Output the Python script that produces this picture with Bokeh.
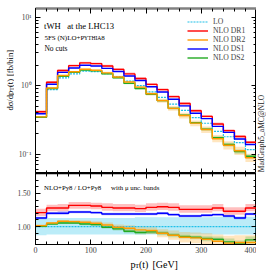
import math
from bokeh.plotting import figure
from bokeh.models import (Range1d, FixedTicker, LogAxis, LinearAxis, Label, Legend,
                          LegendItem, CustomJSTickFormatter, PrintfTickFormatter)
from bokeh.layouts import column, row
from bokeh.embed import file_html
from bokeh.resources import INLINE

# ---------------- data ----------------
bin_edges = [0, 20, 40, 60, 80, 100, 120, 140, 160, 180, 200,
             220, 240, 260, 280, 300, 320, 340, 360, 380, 400]

# LO+Py8 distribution [fb/bin]
lo = [0.344, 0.875, 1.30, 1.485, 1.63, 1.60, 1.50, 1.35, 1.16, 1.00,
      0.81, 0.672, 0.535, 0.436, 0.341, 0.282, 0.215, 0.179, 0.147, 0.116]

# ratios NLO/LO (central)
r_dr1 = [1.21, 1.28, 1.28, 1.32, 1.32, 1.31, 1.29, 1.28, 1.28, 1.27,
         1.29, 1.30, 1.29, 1.26, 1.26, 1.26, 1.28, 1.23, 1.23, 1.28]
r_ds1 = [1.13, 1.20, 1.20, 1.22, 1.22, 1.21, 1.19, 1.19, 1.19, 1.19,
         1.19, 1.20, 1.18, 1.16, 1.16, 1.17, 1.18, 1.16, 1.13, 1.19]
r_dr2 = [1.015, 1.055, 1.08, 1.075, 1.065, 1.05, 1.025, 0.99, 0.975, 0.95,
         0.94, 0.90, 0.87, 0.84, 0.83, 0.81, 0.78, 0.75, 0.76, 0.76]
r_ds2 = [1.005, 1.04, 1.055, 1.055, 1.04, 1.03, 0.99, 0.965, 0.93, 0.91,
         0.92, 0.90, 0.87, 0.85, 0.84, 0.82, 0.81, 0.77, 0.74, 0.80]

# scale-uncertainty bands (ratio to LO)
lo_up = [1.14, 1.13, 1.13, 1.13, 1.13, 1.13, 1.13, 1.13, 1.13, 1.14,
         1.14, 1.14, 1.14, 1.14, 1.14, 1.14, 1.15, 1.15, 1.15, 1.15]
lo_dn = [0.87, 0.88, 0.88, 0.88, 0.88, 0.88, 0.88, 0.88, 0.88, 0.88,
         0.88, 0.88, 0.88, 0.88, 0.88, 0.88, 0.88, 0.88, 0.88, 0.88]
dr1_up = [1.27, 1.33, 1.34, 1.37, 1.37, 1.36, 1.35, 1.34, 1.34, 1.33,
          1.35, 1.36, 1.35, 1.32, 1.32, 1.32, 1.34, 1.29, 1.29, 1.34]
dr1_dn = [1.16, 1.23, 1.23, 1.27, 1.27, 1.26, 1.24, 1.23, 1.23, 1.22,
          1.24, 1.25, 1.24, 1.21, 1.21, 1.21, 1.23, 1.18, 1.18, 1.23]
ds1_up = [1.15, 1.22, 1.23, 1.24, 1.24, 1.23, 1.21, 1.21, 1.21, 1.21,
          1.21, 1.22, 1.20, 1.18, 1.18, 1.19, 1.20, 1.18, 1.15, 1.21]
ds1_dn = [1.11, 1.18, 1.18, 1.20, 1.20, 1.19, 1.17, 1.17, 1.17, 1.17,
          1.17, 1.18, 1.16, 1.14, 1.14, 1.15, 1.16, 1.14, 1.11, 1.17]
dr2_up = [1.03, 1.07, 1.10, 1.10, 1.09, 1.08, 1.06, 1.03, 1.02, 1.00,
          0.99, 0.96, 0.94, 0.92, 0.91, 0.90, 0.88, 0.86, 0.87, 0.87]
dr2_dn = [1.00, 1.04, 1.06, 1.05, 1.04, 1.02, 0.99, 0.95, 0.93, 0.90,
          0.89, 0.84, 0.80, 0.76, 0.75, 0.72, 0.69, 0.65, 0.66, 0.66]
ds2_up = [1.02, 1.05, 1.07, 1.07, 1.06, 1.05, 1.01, 0.99, 0.96, 0.94,
          0.95, 0.93, 0.90, 0.88, 0.87, 0.86, 0.85, 0.82, 0.79, 0.85]
ds2_dn = [0.99, 1.03, 1.04, 1.04, 1.02, 1.01, 0.97, 0.94, 0.90, 0.88,
          0.89, 0.87, 0.84, 0.82, 0.81, 0.78, 0.77, 0.72, 0.69, 0.75]

series_names = ["LO", "NLO DR1", "NLO DR2", "NLO DS1", "NLO DS2"]
x_ticks = [0, 100, 200, 300, 400]
x_tick_labels = ["0", "100", "200", "300", "400"]
main_y_ticks = [0.1, 1.0, 10.0]
main_y_tick_labels = ["10\u207b\u00b9", "10\u2070", "10\u00b9"]
ratio_y_ticks = [1.0, 1.5]

# ---------------- style / layout ----------------
FONT = "Liberation Serif"
C_LO, C_DR1, C_DR2, C_DS1, C_DS2 = "#1ec0e8", "#ff0000", "#ff9a00", "#0000ff", "#22aa22"
YT_W = 14          # strip for the y-axis title (page x 0..14)
FRAME_L, FRAME_R = 33, 256
RT_W = 10          # strip for the vertical generator text (page x 256..266)
MAIN_H = 173       # page y 0..173, frame 8..173
Q_H = 82           # page y 173..255, frame 173..244
XT_H = 15          # page y 255..270
BL = FRAME_L - YT_W
PW = FRAME_R - YT_W


def ext(v):
    return list(v) + [v[-1]]


def mul(a, b):
    return [x * y for x, y in zip(a, b)]


# page-pixel helpers for annotation placement
def mx(px):
    return (px - 33.0) / 0.5575


def my(py):
    return 10 ** ((85.0 - py) / 68.3)


def ry(py):
    return 1.0 + (226.0 - py) / 66.4


def lab(fig, x, y, text, size, angle=0.0, align="left", baseline="alphabetic", color="black"):
    fig.add_layout(Label(x=x, y=y, text=text, text_font=FONT, text_font_size=f"{size}px",
                         angle=angle, text_align=align, text_baseline=baseline,
                         text_color=color))


def strip(width, height, x0, y_bottom):
    # blank figure whose frame is the whole canvas, in page-pixel coordinates
    f = figure(width=width, height=height, x_range=Range1d(x0, x0 + width),
               y_range=Range1d(y_bottom, y_bottom - height), output_backend="svg",
               toolbar_location=None, tools="", min_border=0,
               min_border_left=0, min_border_right=0, min_border_top=0, min_border_bottom=0)
    f.axis.visible = False
    f.grid.visible = False
    f.outline_line_color = None
    return f


empty_fmt = CustomJSTickFormatter(code="return ''")


def style_axis(ax, labels=True):
    ax.major_tick_in = 5
    ax.major_tick_out = 0
    ax.minor_tick_in = 3
    ax.minor_tick_out = 0
    ax.axis_line_color = "black"
    ax.major_tick_line_color = "black"
    ax.minor_tick_line_color = "black"
    ax.major_label_text_font = FONT
    ax.major_label_text_font_size = "7.5px"
    if not labels:
        ax.formatter = empty_fmt
        ax.major_label_standoff = 0


x_minor = list(range(bin_edges[0], bin_edges[-1] + 1, 20))
log_minor = [m * 10.0 ** e for e in (-2, -1, 0, 1) for m in range(2, 10)]

# ---------------- main panel ----------------
p = figure(width=PW, height=MAIN_H, x_range=Range1d(0, 400), y_range=Range1d(0.052, 13.4),
           y_axis_type="log", output_backend="svg", toolbar_location=None,
           min_border_left=BL, min_border_right=0, min_border_top=8, min_border_bottom=0)
p.grid.visible = False
p.outline_line_color = "black"

ymain_ticker = FixedTicker(ticks=main_y_ticks, minor_ticks=log_minor)
x_ticker = FixedTicker(ticks=x_ticks, minor_ticks=x_minor)

p.yaxis.ticker = ymain_ticker
p.yaxis.formatter = CustomJSTickFormatter(
    args=dict(vals=main_y_ticks, labs=main_y_tick_labels),
    code="""for (let i = 0; i < vals.length; i++) {
              if (Math.abs(Math.log10(tick) - Math.log10(vals[i])) < 1e-6) return labs[i];
            } return '';""")
style_axis(p.yaxis[0])
p.yaxis.major_label_standoff = 4
p.xaxis.ticker = x_ticker
style_axis(p.xaxis[0], labels=False)
p.xaxis.axis_line_width = 1.5

ra = LogAxis(ticker=ymain_ticker)
style_axis(ra, labels=False)
p.add_layout(ra, "right")
ta = LinearAxis(ticker=x_ticker)
style_axis(ta, labels=False)
ta.axis_line_color = "#808080"
ta.axis_line_width = 2.5
p.add_layout(ta, "above")

v_dr1 = mul(lo, r_dr1)
v_dr2 = mul(lo, r_dr2)
v_ds1 = mul(lo, r_ds1)
v_ds2 = mul(lo, r_ds2)

p.varea_step(x=bin_edges, y1=ext(mul(lo, dr1_dn)), y2=ext(mul(lo, dr1_up)), step_mode="after",
             fill_color=C_DR1, fill_alpha=0.25)
p.varea_step(x=bin_edges, y1=ext(mul(lo, ds1_dn)), y2=ext(mul(lo, ds1_up)), step_mode="after",
             fill_color=C_DS1, fill_alpha=0.25)
p.varea_step(x=bin_edges, y1=ext(mul(lo, dr2_dn)), y2=ext(mul(lo, dr2_up)), step_mode="after",
             fill_color=C_DR2, fill_alpha=0.25)
p.varea_step(x=bin_edges, y1=ext(mul(lo, ds2_dn)), y2=ext(mul(lo, ds2_up)), step_mode="after",
             fill_color=C_DS2, fill_alpha=0.22)

l_lo = p.step(bin_edges, ext(lo), mode="after", line_color=C_LO, line_width=1.2, line_dash="2 1")
l_dr1 = p.step(bin_edges, ext(v_dr1), mode="after", line_color=C_DR1, line_width=1.4)
l_ds1 = p.step(bin_edges, ext(v_ds1), mode="after", line_color=C_DS1, line_width=1.4)
l_ds2 = p.step(bin_edges, ext(v_ds2), mode="after", line_color=C_DS2, line_width=1.4)
l_dr2 = p.step(bin_edges, ext(v_dr2), mode="after", line_color=C_DR2, line_width=1.4)

# legend band markers (no data, legend only)
b_dr1 = p.line(x=[], y=[], line_color=C_DR1, line_alpha=0.35, line_width=4)
b_ds1 = p.line(x=[], y=[], line_color=C_DS1, line_alpha=0.35, line_width=4)

legend = Legend(items=[
    LegendItem(label=series_names[0], renderers=[l_lo]),
    LegendItem(label=series_names[1], renderers=[b_dr1, l_dr1]),
    LegendItem(label=series_names[2], renderers=[l_dr2]),
    LegendItem(label=series_names[3], renderers=[b_ds1, l_ds1]),
    LegendItem(label=series_names[4], renderers=[l_ds2]),
], location=(152, 111), glyph_width=21, glyph_height=9, label_height=9, label_standoff=5,
    spacing=0, padding=0, margin=0, border_line_color=None, background_fill_alpha=0,
    label_text_font=FONT, label_text_font_size="7.7px")
p.add_layout(legend)

# texts in main panel
lab(p, mx(41.7), my(25.5), "tWH", 8.6)
lab(p, mx(65), my(25.5), "at the LHC13", 8.6)
lab(p, mx(42), my(37.5), "5FS (N)LO+P", 7)
lab(p, mx(81.9), my(37.5), "YTHIA", 5.6)
lab(p, mx(99.3), my(37.5), "8", 7)
lab(p, mx(42), my(48.3), "No cuts", 7.5)

# ---------------- ratio panel ----------------
q = figure(width=PW, height=Q_H, x_range=p.x_range, y_range=Range1d(0.73, 1.8),
           output_backend="svg", toolbar_location=None,
           min_border_left=BL, min_border_right=0, min_border_top=0, min_border_bottom=11)
q.grid.visible = False
q.outline_line_color = "black"
q.xaxis.ticker = x_ticker
q.xaxis.major_label_overrides = {t: s for t, s in zip(x_ticks, x_tick_labels)}
style_axis(q.xaxis[0])
q.xaxis.major_label_standoff = 2
q.xaxis.major_label_text_font_size = "8px"
yr_ticker = FixedTicker(ticks=ratio_y_ticks, minor_ticks=[0.8, 0.9, 1.0, 1.1, 1.2, 1.3, 1.4, 1.5, 1.6, 1.7])
q.yaxis.ticker = yr_ticker
q.yaxis.formatter = PrintfTickFormatter(format="%.2f")
style_axis(q.yaxis[0])
q.yaxis.major_label_standoff = 5
ra2 = LinearAxis(ticker=yr_ticker)
style_axis(ra2, labels=False)
q.add_layout(ra2, "right")
ta2 = LinearAxis(ticker=x_ticker)
style_axis(ta2, labels=False)
ta2.axis_line_width = 1.5
q.add_layout(ta2, "above")

q.varea_step(x=bin_edges, y1=ext(lo_dn), y2=ext(lo_up), step_mode="after", fill_color=C_LO, fill_alpha=0.3)
q.varea_step(x=bin_edges, y1=ext(dr1_dn), y2=ext(dr1_up), step_mode="after", fill_color=C_DR1, fill_alpha=0.25)
q.varea_step(x=bin_edges, y1=ext(ds1_dn), y2=ext(ds1_up), step_mode="after", fill_color=C_DS1, fill_alpha=0.25)
q.varea_step(x=bin_edges, y1=ext(dr2_dn), y2=ext(dr2_up), step_mode="after", fill_color=C_DR2, fill_alpha=0.25)
q.varea_step(x=bin_edges, y1=ext(ds2_dn), y2=ext(ds2_up), step_mode="after", fill_color=C_DS2, fill_alpha=0.22)

q.step(bin_edges, ext([a / a for a in lo]), mode="after", line_color=C_LO, line_width=1.2, line_dash="2 1")
q.step(bin_edges, ext(r_dr1), mode="after", line_color=C_DR1, line_width=1.4)
q.step(bin_edges, ext(r_ds1), mode="after", line_color=C_DS1, line_width=1.4)
q.step(bin_edges, ext(r_ds2), mode="after", line_color=C_DS2, line_width=1.4)
q.step(bin_edges, ext(r_dr2), mode="after", line_color=C_DR2, line_width=1.4)

lab(q, mx(41.7), ry(187), "NLO+Py8 / LO+Py8", 6.8)
lab(q, mx(109.3), ry(187), "with \u03bc unc. bands", 6.8)

# ---------------- text strips (page-pixel coordinates) ----------------
# y-axis title, rotated
yt = strip(YT_W, MAIN_H, 0, MAIN_H)
lab(yt, 9.5, 110, "d\u03c3/dp", 8.5, angle=math.pi / 2)
lab(yt, 11, 90.2, "T", 6, angle=math.pi / 2)
lab(yt, 9.5, 86.5, "(t)", 8.5, angle=math.pi / 2)
lab(yt, 9.5, 75.5, "[fb/bin]", 8.5, angle=math.pi / 2)

# generator tag on the right
rt = strip(RT_W, MAIN_H, FRAME_R, MAIN_H)
lab(rt, 261, 133, "MadGraph5_aMC@NLO", 7.5, angle=math.pi / 2, align="center",
    baseline="middle", color="#222222")

# x-axis title
xt = strip(PW, XT_H, YT_W, MAIN_H + Q_H + XT_H)
lab(xt, 118, 264, "p", 10)
lab(xt, 123, 265.6, "T", 7)
lab(xt, 127.3, 264, "(t)", 10)
lab(xt, 142, 264, "[GeV]", 10)

layout = row(yt, column(p, q, xt, spacing=0), rt, spacing=0)
open("out.html", "w").write(file_html(layout, INLINE))
